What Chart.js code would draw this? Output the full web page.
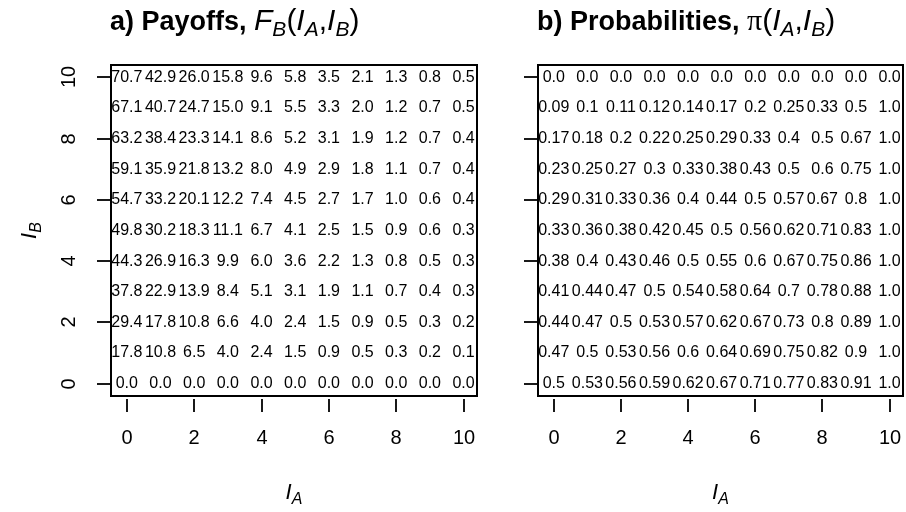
<!DOCTYPE html>
<html>
<head>
<meta charset="utf-8">
<script src="https://cdn.jsdelivr.net/npm/chart.js@4/dist/chart.umd.min.js"></script>
<style>
  body { margin: 0; background: #fff; }
  #wrap { position: relative; width: 906px; height: 512px; }
  canvas { position: absolute; top: 0; }
</style>
</head>
<body>
<div id="wrap">
  <canvas id="chartA" style="left:0px" width="500" height="512"></canvas>
  <canvas id="chartB" style="left:500px" width="406" height="512"></canvas>
</div>
<script>
// I_A along x, I_B along y
const iA = [0, 1, 2, 3, 4, 5, 6, 7, 8, 9, 10];
const iB = [0, 1, 2, 3, 4, 5, 6, 7, 8, 9, 10];
const axisTicks = [0, 2, 4, 6, 8, 10];

// payoffs F_B(I_A, I_B), one row per I_B (0 .. 10)
const payoffRows = [
  [0.0, 0.0, 0.0, 0.0, 0.0, 0.0, 0.0, 0.0, 0.0, 0.0, 0.0],
  [17.8, 10.8, 6.5, 4.0, 2.4, 1.5, 0.9, 0.5, 0.3, 0.2, 0.1],
  [29.4, 17.8, 10.8, 6.6, 4.0, 2.4, 1.5, 0.9, 0.5, 0.3, 0.2],
  [37.8, 22.9, 13.9, 8.4, 5.1, 3.1, 1.9, 1.1, 0.7, 0.4, 0.3],
  [44.3, 26.9, 16.3, 9.9, 6.0, 3.6, 2.2, 1.3, 0.8, 0.5, 0.3],
  [49.8, 30.2, 18.3, 11.1, 6.7, 4.1, 2.5, 1.5, 0.9, 0.6, 0.3],
  [54.7, 33.2, 20.1, 12.2, 7.4, 4.5, 2.7, 1.7, 1.0, 0.6, 0.4],
  [59.1, 35.9, 21.8, 13.2, 8.0, 4.9, 2.9, 1.8, 1.1, 0.7, 0.4],
  [63.2, 38.4, 23.3, 14.1, 8.6, 5.2, 3.1, 1.9, 1.2, 0.7, 0.4],
  [67.1, 40.7, 24.7, 15.0, 9.1, 5.5, 3.3, 2.0, 1.2, 0.7, 0.5],
  [70.7, 42.9, 26.0, 15.8, 9.6, 5.8, 3.5, 2.1, 1.3, 0.8, 0.5]
];

// probabilities pi(I_A, I_B), one row per I_B (0 .. 10)
const probRows = [
  [0.5, 0.53, 0.56, 0.59, 0.62, 0.67, 0.71, 0.77, 0.83, 0.91, 1],
  [0.47, 0.5, 0.53, 0.56, 0.6, 0.64, 0.69, 0.75, 0.82, 0.9, 1],
  [0.44, 0.47, 0.5, 0.53, 0.57, 0.62, 0.67, 0.73, 0.8, 0.89, 1],
  [0.41, 0.44, 0.47, 0.5, 0.54, 0.58, 0.64, 0.7, 0.78, 0.88, 1],
  [0.38, 0.4, 0.43, 0.46, 0.5, 0.55, 0.6, 0.67, 0.75, 0.86, 1],
  [0.33, 0.36, 0.38, 0.42, 0.45, 0.5, 0.56, 0.62, 0.71, 0.83, 1],
  [0.29, 0.31, 0.33, 0.36, 0.4, 0.44, 0.5, 0.57, 0.67, 0.8, 1],
  [0.23, 0.25, 0.27, 0.3, 0.33, 0.38, 0.43, 0.5, 0.6, 0.75, 1],
  [0.17, 0.18, 0.2, 0.22, 0.25, 0.29, 0.33, 0.4, 0.5, 0.67, 1],
  [0.09, 0.1, 0.11, 0.12, 0.14, 0.17, 0.2, 0.25, 0.33, 0.5, 1],
  [0, 0, 0, 0, 0, 0, 0, 0, 0, 0, 0]
];

const FONT = '"Liberation Sans", Arial, Helvetica, sans-serif';

function fmtPayoff(v) { return v.toFixed(1); }
function fmtProb(v) { return (v === 0 || v === 1) ? v.toFixed(1) : String(v); }

function gridPoints(rows, fmt) {
  const pts = [];
  iB.forEach((b, j) => {
    iA.forEach((a, i) => {
      pts.push({ x: a, y: b, label: fmt(rows[j][i]) });
    });
  });
  return pts;
}

// draws a run of text pieces (for subscripts / mixed fonts)
function pieceWidth(ctx, parts) {
  let w = 0;
  parts.forEach(p => { ctx.font = p.font; w += ctx.measureText(p.t).width; });
  return w;
}
function drawPieces(ctx, x, y, parts) {
  ctx.textAlign = 'left';
  ctx.textBaseline = 'alphabetic';
  parts.forEach(p => {
    ctx.font = p.font;
    ctx.fillText(p.t, x, y + (p.dy || 0));
    x += ctx.measureText(p.t).width;
  });
}

const mainF = '30px ' + FONT;
const mainI = 'italic 30px ' + FONT;
const subI = 'italic 21px ' + FONT;
const titleA = [
  { t: 'a) Payoffs, ', font: 'bold 27px ' + FONT },
  { t: 'F', font: mainI }, { t: 'B', font: subI, dy: 6 },
  { t: '(', font: mainF }, { t: 'I', font: mainI }, { t: 'A', font: subI, dy: 6 },
  { t: ',', font: mainF }, { t: 'I', font: mainI }, { t: 'B', font: subI, dy: 6 },
  { t: ')', font: mainF }
];
const titleB = [
  { t: 'b) Probabilities, ', font: 'bold 27px ' + FONT },
  { t: '\u03c0', font: '30px "Liberation Serif", serif' },
  { t: '(', font: mainF }, { t: 'I', font: mainI }, { t: 'A', font: subI, dy: 6 },
  { t: ',', font: mainF }, { t: 'I', font: mainI }, { t: 'B', font: subI, dy: 6 },
  { t: ')', font: mainF }
];
const labI = 'italic 22px ' + FONT;
const labSub = 'italic 16px ' + FONT;
const xTitle = [{ t: 'I', font: labI }, { t: 'A', font: labSub, dy: 5 }];
const yTitle = [{ t: 'I', font: labI }, { t: 'B', font: labSub, dy: 5 }];

const rFrame = {
  id: 'rFrame',
  afterDatasetsDraw(chart) {
    const ctx = chart.ctx;
    const meta = chart.getDatasetMeta(0);
    ctx.save();
    ctx.fillStyle = '#000';
    ctx.font = '16px ' + FONT;
    ctx.textAlign = 'center';
    ctx.textBaseline = 'middle';
    meta.data.forEach((el, k) => {
      ctx.fillText(chart.data.datasets[0].data[k].label, el.x, el.y);
    });
    ctx.restore();
  },
  afterDraw(chart, args, opts) {
    const ctx = chart.ctx;
    const a = chart.chartArea;
    const xs = chart.scales.x, ys = chart.scales.y;
    ctx.save();
    ctx.strokeStyle = '#000';
    ctx.fillStyle = '#000';
    ctx.lineWidth = 2;
    ctx.strokeRect(a.left, a.top, a.right - a.left, a.bottom - a.top);

    ctx.lineWidth = 1.8;
    ctx.font = '20px ' + FONT;
    ctx.textAlign = 'center';
    ctx.textBaseline = 'middle';
    axisTicks.forEach(v => {
      const px = Math.round(xs.getPixelForValue(v));
      ctx.beginPath();
      ctx.moveTo(px, a.bottom + 3);
      ctx.lineTo(px, a.bottom + 16);
      ctx.stroke();
      ctx.fillText(String(v), px, a.bottom + 42);

      const py = Math.round(ys.getPixelForValue(v));
      ctx.beginPath();
      ctx.moveTo(a.left - 14, py);
      ctx.lineTo(a.left, py);
      ctx.stroke();
      if (opts.yLabels) {
        ctx.save();
        ctx.translate(a.left - 42, py);
        ctx.rotate(-Math.PI / 2);
        ctx.fillText(String(v), 0, 0);
        ctx.restore();
      }
    });

    // x axis title
    const cx = (a.left + a.right) / 2;
    const wx = pieceWidth(ctx, xTitle);
    drawPieces(ctx, cx - wx / 2, 499, xTitle);

    // y axis title (rotated)
    if (opts.yLabels) {
      const cy = (a.top + a.bottom) / 2;
      const wy = pieceWidth(ctx, yTitle);
      ctx.save();
      ctx.translate(a.left - 75, cy);
      ctx.rotate(-Math.PI / 2);
      drawPieces(ctx, -wy / 2, 0, yTitle);
      ctx.restore();
    }

    // main title
    drawPieces(ctx, a.left - 1, 30, opts.title);
    ctx.restore();
  }
};

function makeChart(id, rows, fmt, pad, title, yLabels) {
  return new Chart(document.getElementById(id), {
    type: 'scatter',
    data: {
      datasets: [{
        data: gridPoints(rows, fmt),
        pointRadius: 0,
        pointHoverRadius: 0
      }]
    },
    options: {
      responsive: false,
      animation: false,
      events: [],
      layout: { padding: pad },
      plugins: {
        legend: { display: false },
        tooltip: { enabled: false },
        rFrame: { title: title, yLabels: yLabels }
      },
      scales: {
        x: { type: 'linear', min: -0.47, max: 10.4, display: false },
        y: { type: 'linear', min: -0.4, max: 10.4, display: false }
      }
    },
    plugins: [rFrame]
  });
}

makeChart('chartA', payoffRows, fmtPayoff, { left: 111, right: 23, top: 65, bottom: 116 }, titleA, true);
makeChart('chartB', probRows, fmtProb, { left: 38, right: 3, top: 65, bottom: 116 }, titleB, false);
</script>
</body>
</html>
